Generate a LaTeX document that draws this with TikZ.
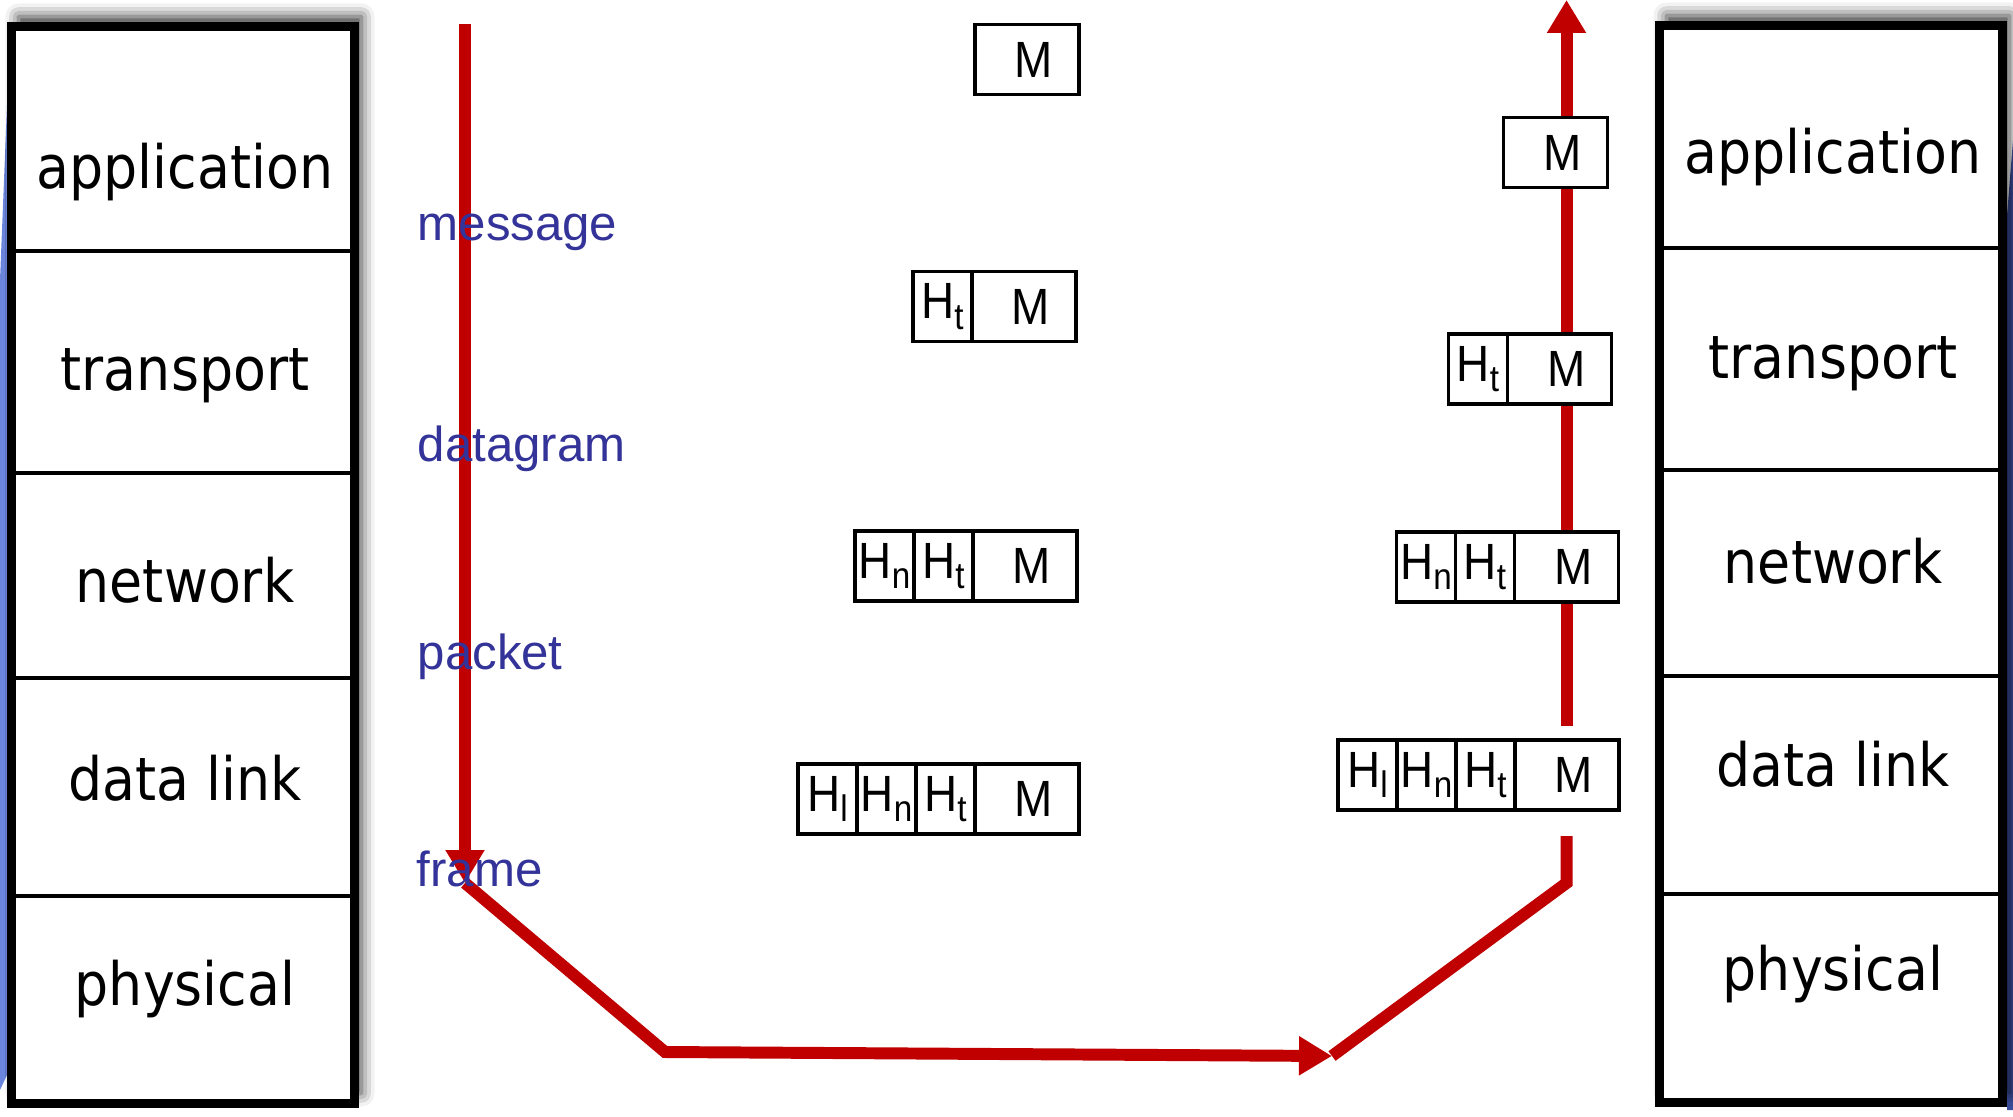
\documentclass[tikz,border=0pt]{standalone}
\usepackage{fontspec}
\setmainfont{Liberation Sans}
\newfontfamily\layerfont{DejaVu Sans}[FakeStretch=0.9]
\newfontfamily\cellfont{Liberation Sans}[FakeStretch=0.9]
\usetikzlibrary{arrows.meta,positioning,shadows.blur}
\definecolor{pktred}{HTML}{C00000}
\definecolor{pktblue}{HTML}{333399}
\definecolor{edgeblue}{HTML}{6B85DD}
\definecolor{edgenavy}{HTML}{3A4D9C}
\newcommand{\hsub}[1]{H\raisebox{-3pt}{\fontsize{10.5}{10.5}\selectfont #1}}

\begin{document}
\begin{tikzpicture}[
    layername/.style={font=\layerfont\fontsize{17}{17}\selectfont, anchor=base, inner sep=0pt},
    unitname/.style={font=\fontsize{14}{14}\selectfont, text=pktblue, anchor=base west, inner sep=0pt},
    hcell/.style={draw, line width=0.95pt, fill=white, minimum width=0.59cm, minimum height=0.70cm,
      inner sep=0pt, outer sep=0pt, font=\cellfont\fontsize{14.5}{14.5}\selectfont},
    mcell/.style={hcell, minimum width=1.04cm},
    flow/.style={line width=3.4pt, pktred},
    tip/.style={-{Triangle[length=0.33cm,width=0.37cm]}},
    stack/.style={line width=2.6pt, fill=white,
      blur shadow={shadow xshift=0.07cm, shadow yshift=0.1cm, shadow blur radius=0.13cm, shadow opacity=80}},
  ]
  \useasboundingbox (0,0) rectangle (20.13,11.16);

  % slide background showing at the edges
  \fill[edgeblue] (0,8.36) -- (0.07,10.11) -- (0.07,0.41) -- (0,0.26) -- cycle;
  \fill[edgenavy] (20.07,9.01) -- (20.13,9.76) -- (20.13,0.06) -- (20.07,0.06) -- cycle;

  % sending host
  \draw[stack] (0.115,0.125) rectangle (3.545,10.895);
  \foreach \y in {8.65,6.43,4.38,2.20}
    \draw[line width=1pt] (0.115,\y) -- (3.545,\y);
  \node[layername] (sapp) at (1.85,9.28) {application};
  \node[layername] (stra) at (1.85,7.26) {transport};
  \node[layername] (snet) at (1.85,5.14) {network};
  \node[layername] (slnk) at (1.85,3.16) {data link};
  \node[layername] (sphy) at (1.85,1.11) {physical};

  % receiving host
  \draw[stack] (16.595,0.135) rectangle (20.025,10.905);
  \foreach \y in {8.68,6.46,4.40,2.22}
    \draw[line width=1pt] (16.595,\y) -- (20.025,\y);
  \node[layername] (rapp) at (18.33,9.43) {application};
  \node[layername] (rtra) at (18.33,7.38) {transport};
  \node[layername] (rnet) at (18.33,5.33) {network};
  \node[layername] (rlnk) at (18.33,3.30) {data link};
  \node[layername] (rphy) at (18.33,1.26) {physical};

  % path of the data
  \coordinate (srctop) at (4.65,10.92);
  \coordinate (srcbot) at (4.65,2.33);
  \coordinate (lowl) at (6.65,0.64);
  \coordinate (lowr) at (13.32,0.60);
  \coordinate (dstbend) at (15.665,2.33);
  \coordinate (dstlow) at (15.665,2.80);
  \coordinate (dstmid) at (15.665,3.90);
  \coordinate (dsttop) at (15.665,11.16);
  \draw[flow,tip] (srctop) -- (srcbot);
  \draw[flow,tip] (srcbot) -- (lowl) -- (lowr);
  \draw[flow] (lowr) -- (dstbend) -- (dstlow);
  \draw[flow,tip] (dstmid) -- (dsttop);

  % encapsulation on the way down
  \node[mcell] (sam) at (10.27,10.565) {\hspace*{0.14cm}M};
  \node[mcell] (stm) at (10.24,8.095) {\hspace*{0.14cm}M};
  \node[hcell, left=0pt of stm] (stht) {\hsub{t}};
  \node[mcell] (snm) at (10.25,5.50) {\hspace*{0.14cm}M};
  \node[hcell, left=0pt of snm] (snht) {\hsub{t}};
  \node[hcell, left=0pt of snht] (snhn) {\hsub{n}};
  \node[mcell] (slm) at (10.27,3.17) {\hspace*{0.14cm}M};
  \node[hcell, left=0pt of slm] (slht) {\hsub{t}};
  \node[hcell, left=0pt of slht] (slhn) {\hsub{n}};
  \node[hcell, left=0pt of slhn] (slhl) {\hsub{l}};

  % decapsulation on the way up
  \node[mcell] (ram) at (15.555,9.635) {\hspace*{0.14cm}M};
  \node[mcell] (rtm) at (15.595,7.47) {\hspace*{0.14cm}M};
  \node[hcell, left=0pt of rtm] (rtht) {\hsub{t}};
  \node[mcell] (rnm) at (15.665,5.49) {\hspace*{0.14cm}M};
  \node[hcell, left=0pt of rnm] (rnht) {\hsub{t}};
  \node[hcell, left=0pt of rnht] (rnhn) {\hsub{n}};
  \node[mcell] (rlm) at (15.67,3.41) {\hspace*{0.14cm}M};
  \node[hcell, left=0pt of rlm] (rlht) {\hsub{t}};
  \node[hcell, left=0pt of rlht] (rlhn) {\hsub{n}};
  \node[hcell, left=0pt of rlhn] (rlhl) {\hsub{l}};

  % names of the units
  \node[unitname] (umsg) at (4.17,8.76) {message};
  \node[unitname] (udgm) at (4.17,6.55) {datagram};
  \node[unitname] (upkt) at (4.17,4.47) {packet};
  \node[unitname] (ufrm) at (4.16,2.30) {frame};
\end{tikzpicture}
\end{document}
